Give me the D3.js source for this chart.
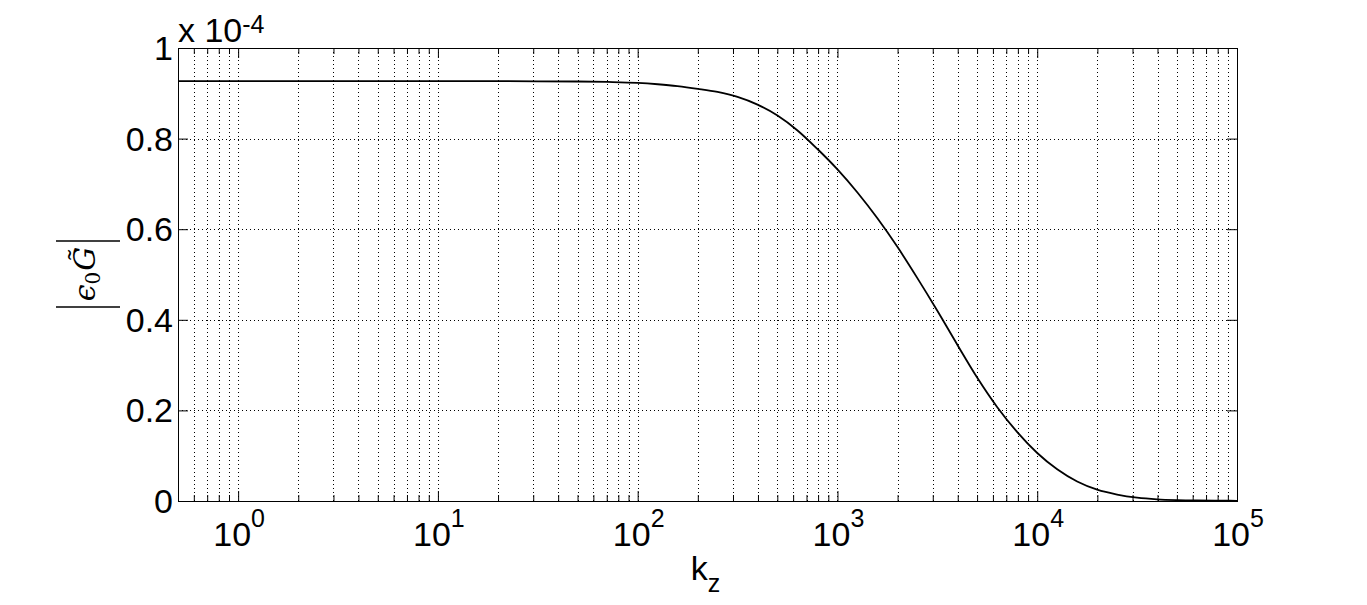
<!DOCTYPE html>
<html><head><meta charset="utf-8">
<script src="https://cdn.jsdelivr.net/npm/d3@7"></script>
<style>body{margin:0;background:#fff;} svg{display:block;background:#fff;}</style>
</head><body>
<svg id="chart" width="1367" height="605"></svg>
<script>
// ---- data (|eps0 G~| in units of 1e-4) ----
const kValues = [0.5, 1, 3.16, 10, 31.6, 50, 70.8, 100, 126, 158, 200, 251, 316, 398, 501, 631, 794, 1000, 1259, 1585, 1995, 2512, 3162, 3981, 5012, 6310, 7943, 10000, 12589, 15849, 19953, 25119, 31623, 39811, 50119, 63096, 79433, 100000];
const gValues = [0.927, 0.927, 0.927, 0.927, 0.9265, 0.926, 0.925, 0.923, 0.920, 0.916, 0.910, 0.903, 0.892, 0.875, 0.851, 0.818, 0.777, 0.732, 0.681, 0.624, 0.561, 0.492, 0.420, 0.345, 0.272, 0.207, 0.152, 0.106, 0.070, 0.043, 0.025, 0.0143, 0.0075, 0.0038, 0.002, 0.0011, 0.0007, 0.0004];
const yTickValues = [0, 0.2, 0.4, 0.6, 0.8, 1];
const yTickLabels = ["0", "0.2", "0.4", "0.6", "0.8", "1"];
const xTickExponents = [0, 1, 2, 3, 4, 5];
const xDomain = [0.5, 1e5];
const yDomain = [0, 1];
const scaleBase = "x 10";
const scaleExponent = "-4";
const xLabelMain = "k";
const xLabelSub = "z";

// ---- layout ----
const m = {left: 178, right: 1237, top: 48, bottom: 501};
const svg = d3.select("#chart");
const font = "'Liberation Sans', Arial, Helvetica, sans-serif";
const x = d3.scaleLog().domain(xDomain).range([m.left, m.right]);
const y = d3.scaleLinear().domain(yDomain).range([m.bottom, m.top]);
const ph = m.bottom - m.top, pw = m.right - m.left;

const majorX = xTickExponents.map(e => Math.pow(10, e));
const minorX = [];
for (let e = -1; e <= 4; e++) for (let j = 2; j <= 9; j++) {
  const v = j * Math.pow(10, e);
  if (v > xDomain[0] && v < xDomain[1]) minorX.push(v);
}

// grid
const grid = svg.append("g").attr("stroke", "#000").attr("stroke-width", 1).attr("stroke-dasharray", "1,3").attr("fill", "none");
grid.selectAll("line.gx").data(majorX.concat(minorX).filter(v => v > xDomain[0] && v < xDomain[1]))
  .enter().append("line")
  .attr("x1", d => Math.round(x(d)) + 0.5).attr("x2", d => Math.round(x(d)) + 0.5)
  .attr("y1", m.top).attr("y2", m.bottom);
grid.selectAll("line.gy").data(yTickValues.filter(v => v > 0 && v < 1))
  .enter().append("line")
  .attr("y1", d => Math.round(y(d)) + 0.5).attr("y2", d => Math.round(y(d)) + 0.5)
  .attr("x1", m.left).attr("x2", m.right);

// axes via d3 (inward ticks)
function styleAxis(g) {
  g.selectAll(".domain").remove();
  g.selectAll("text").remove();
  g.selectAll("line").attr("stroke", "#000").attr("stroke-width", 1);
}
svg.append("g").attr("transform", `translate(0,${m.bottom})`)
  .call(d3.axisBottom(x).tickValues(majorX).tickSize(-10).tickFormat("")).call(styleAxis);
svg.append("g").attr("transform", `translate(0,${m.bottom})`)
  .call(d3.axisBottom(x).tickValues(minorX).tickSize(-6).tickFormat("")).call(styleAxis);
svg.append("g").attr("transform", `translate(0,${m.top})`)
  .call(d3.axisTop(x).tickValues(majorX).tickSize(-10).tickFormat("")).call(styleAxis);
svg.append("g").attr("transform", `translate(0,${m.top})`)
  .call(d3.axisTop(x).tickValues(minorX).tickSize(-6).tickFormat("")).call(styleAxis);
svg.append("g").attr("transform", `translate(${m.left},0)`)
  .call(d3.axisLeft(y).tickValues(yTickValues).tickSize(-10).tickFormat("")).call(styleAxis);
svg.append("g").attr("transform", `translate(${m.right},0)`)
  .call(d3.axisRight(y).tickValues(yTickValues).tickSize(-10).tickFormat("")).call(styleAxis);

// box
svg.append("rect").attr("x", m.left + 0.5).attr("y", m.top + 0.5).attr("width", pw).attr("height", ph)
  .attr("fill", "none").attr("stroke", "#000").attr("stroke-width", 1);

// curve
const data = kValues.map((k, i) => ({k, v: gValues[i]}));
const line = d3.line().x(d => x(d.k)).y(d => y(d.v)).curve(d3.curveMonotoneX);
svg.append("path").datum(data).attr("d", line).attr("fill", "none")
  .attr("stroke", "#000").attr("stroke-width", 1.8).attr("stroke-linejoin", "round");

// y tick labels
svg.append("g").selectAll("text").data(yTickValues).enter().append("text")
  .attr("x", m.left - 5).attr("y", d => y(d) + 12)
  .attr("text-anchor", "end").attr("font-family", font).attr("font-size", 34).attr("fill", "#000")
  .text((d, i) => yTickLabels[i]);

// x tick labels 10^n
const xl = svg.append("g").selectAll("text").data(xTickExponents).enter().append("text")
  .attr("x", d => x(Math.pow(10, d)) + 1).attr("y", 546)
  .attr("text-anchor", "middle").attr("font-family", font).attr("font-size", 34).attr("fill", "#000");
xl.append("tspan").text("10");
xl.append("tspan").attr("dy", -19).attr("font-size", 25).text(d => String(d));

// scale factor
const sf = svg.append("text").attr("x", m.left).attr("y", 42)
  .attr("font-family", font).attr("font-size", 34).attr("fill", "#000");
sf.append("tspan").text(scaleBase);
sf.append("tspan").attr("dy", -9).attr("font-size", 25).text(scaleExponent);

// x label
const xt = svg.append("text").attr("x", (m.left + m.right) / 2 - 2).attr("y", 580)
  .attr("text-anchor", "middle").attr("font-family", font).attr("font-size", 34).attr("fill", "#000");
xt.append("tspan").text(xLabelMain);
xt.append("tspan").attr("dy", 12).attr("font-size", 25).text(xLabelSub);

// y label |ϵ0 G̃|
const yl = svg.append("g").attr("transform", "translate(95,274) rotate(-90)");
yl.append("line").attr("x1", -33).attr("x2", -33).attr("y1", -39).attr("y2", 25).attr("stroke", "#000").attr("stroke-width", 1.6);
yl.append("line").attr("x1", 33).attr("x2", 33).attr("y1", -39).attr("y2", 25).attr("stroke", "#000").attr("stroke-width", 1.6);
const ylt = yl.append("text").attr("x", 0).attr("y", 0).attr("text-anchor", "middle")
  .attr("font-family", "'DejaVu Serif', 'Liberation Serif', serif").attr("font-size", 30).attr("fill", "#000");
ylt.append("tspan").attr("font-style", "italic").text("\u03F5");
ylt.append("tspan").attr("font-size", 20).attr("dy", 5).text("0");
ylt.append("tspan").attr("font-style", "italic").attr("dy", -5).attr("dx", 1).text("G\u0303");
</script>
</body></html>
